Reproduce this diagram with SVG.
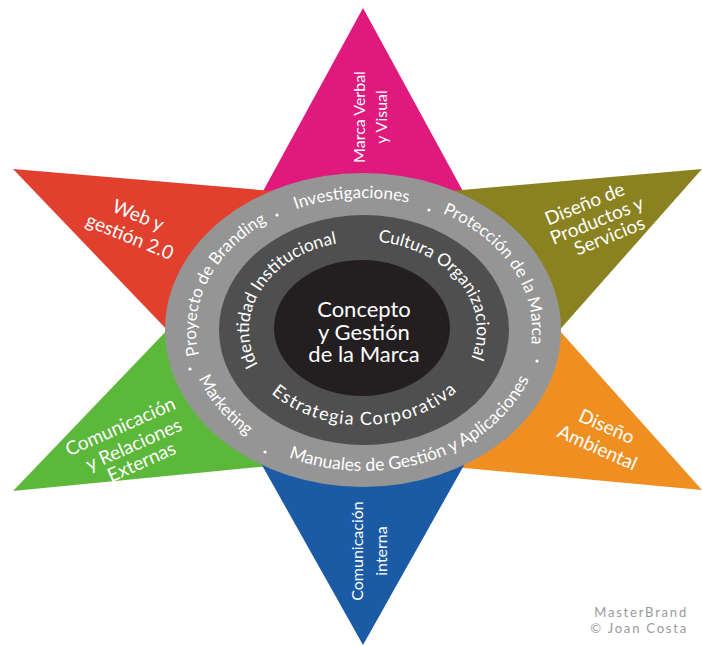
<svg xmlns="http://www.w3.org/2000/svg" width="702" height="646" viewBox="0 0 702 646">
<defs>
<style>
text { font-family: Lato, "Noto Sans", sans-serif; fill: #ffffff; }
.pt { font-size: 19px; }
.vt { font-size: 16px; }
.ring { font-size: 17px; }
.ringb { font-size: 17.6px; }
.mid { font-size: 17.4px; }
.midb { font-size: 18px; letter-spacing: 1.2px; }
.core { font-size: 22px; }
.credit { font-size: 13px; fill: #9a9a9a; letter-spacing: 1.8px; }
.dot { fill: #ffffff; }
</style>
<path id="outerCW" d="M364,462 A168,132 0 0 1 364,198 A168,132 0 0 1 364,462" fill="none"/>
<path id="outerCCW" d="M364,189 A176,141 0 0 0 364,471 A176,141 0 0 0 364,189" fill="none"/>
<path id="midCW" d="M363,419 A114,89 0 0 1 363,241 A114,89 0 0 1 363,419" fill="none"/>
<path id="midCCW" d="M363,235 A123,95 0 0 0 363,425 A123,95 0 0 0 363,235" fill="none"/>
</defs>
<rect width="702" height="646" fill="#ffffff"/>

<g id="connectors"></g>

<g id="node-marca-verbal">
<polygon points="363,8 495,250 231,250" fill="#e0197d"/>
<text class="vt" transform="translate(376,117) rotate(-90)" text-anchor="middle"><tspan x="0" y="-11">Marca Verbal</tspan><tspan x="0" y="11">y Visual</tspan></text>
</g>

<g id="node-web">
<polygon points="13,169 320,195 240,406" fill="#e2402f"/>
<text class="pt" transform="translate(134,226) rotate(22)" text-anchor="middle"><tspan x="0" y="-5">Web y</tspan><tspan x="0" y="18">gestión 2.0</tspan></text>
</g>

<g id="node-diseno-productos">
<polygon points="702,169 405,195 486,413" fill="#8a8220"/>
<text class="pt" transform="translate(597,221) rotate(-22)" text-anchor="middle"><tspan x="-5" y="-14">Diseño de</tspan><tspan x="0" y="6">Productos y</tspan><tspan x="6" y="25">Servicios</tspan></text>
</g>

<g id="node-comunicacion-externa">
<polygon points="13,491 240,254 330,460" fill="#5cb83a"/>
<text class="pt" transform="translate(134,445) rotate(-24)" text-anchor="middle"><tspan x="-5" y="-16">Comunicación</tspan><tspan x="0" y="6">y Relaciones</tspan><tspan x="0" y="25">Externas</tspan></text>
</g>

<g id="node-diseno-ambiental">
<polygon points="702,490 486,248 400,462" fill="#ef8f22"/>
<text class="pt" transform="translate(602,437) rotate(24)" text-anchor="middle"><tspan x="0" y="-5">Diseño</tspan><tspan x="0" y="18">Ambiental</tspan></text>
</g>

<g id="node-comunicacion-interna">
<polygon points="363,645 231,410 495,410" fill="#1b5ba6"/>
<text class="vt" transform="translate(375,551) rotate(-90)" text-anchor="middle"><tspan x="0" y="-12">Comunicación</tspan><tspan x="0" y="12">interna</tspan></text>
</g>

<g id="node-outer-ring">
<ellipse cx="363" cy="330" rx="198" ry="157" fill="#959595"/>
<text class="ring" text-anchor="middle"><textPath href="#outerCW" startOffset="30.8%">Proyecto de Branding</textPath></text>
<text class="ring" text-anchor="middle"><textPath href="#outerCW" startOffset="48.7%">Investigaciones</textPath></text>
<text class="ring" text-anchor="middle"><textPath href="#outerCW" startOffset="67.5%">Protección de la Marca</textPath></text>
<text class="ring" text-anchor="middle"><textPath href="#outerCCW" startOffset="33.8%">Marketing</textPath></text>
<text class="ringb" text-anchor="middle"><textPath href="#outerCCW" startOffset="56.1%">Manuales de Gestión y Aplicaciones</textPath></text>
<circle class="dot" cx="277" cy="215" r="1.6"/>
<circle class="dot" cx="429" cy="210" r="1.6"/>
<circle class="dot" cx="537" cy="361" r="1.6"/>
<circle class="dot" cx="265" cy="452" r="1.6"/>
<circle class="dot" cx="190" cy="369" r="1.6"/>
</g>

<g id="node-middle-ring">
<ellipse cx="364" cy="330" rx="145" ry="115" fill="#4f4f4f"/>
<text class="mid" text-anchor="middle"><textPath href="#midCW" startOffset="32.6%">Identidad Institucional</textPath></text>
<text class="mid" text-anchor="middle"><textPath href="#midCW" startOffset="65.9%">Cultura Organizacional</textPath></text>
<text class="midb" text-anchor="middle"><textPath href="#midCCW" startOffset="50.3%">Estrategia Corporativa</textPath></text>
</g>

<g id="node-core">
<ellipse cx="362" cy="328" rx="88" ry="68" fill="#231f20"/>
<text class="core" text-anchor="middle"><tspan x="364" y="317">Concepto</tspan><tspan x="364" y="340">y Gestión</tspan><tspan x="364" y="362">de la Marca</tspan></text>
</g>

<g id="credit">
<text class="credit" text-anchor="end"><tspan x="688" y="617">MasterBrand</tspan><tspan x="688" y="633">© Joan Costa</tspan></text>
</g>
</svg>
